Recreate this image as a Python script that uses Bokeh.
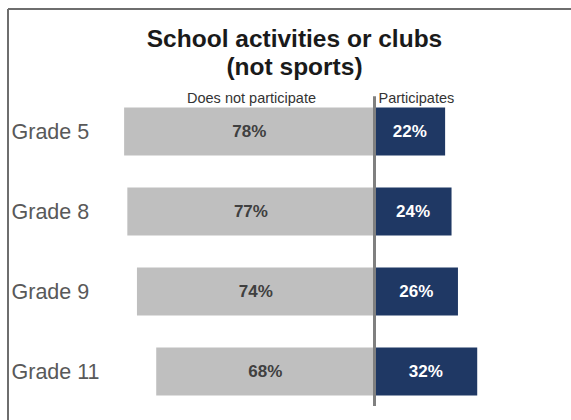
from bokeh.plotting import figure
from bokeh.models import Range1d, Label, ColumnDataSource
from bokeh.core.properties import value
from bokeh.embed import file_html
from bokeh.resources import INLINE

# ---- data ----
grades = ["Grade 5", "Grade 8", "Grade 9", "Grade 11"]
does_not_participate = [78, 77, 74, 68]
participates = [22, 24, 26, 32]
title_lines = ["School activities or clubs", "(not sports)"]
header_left = "Does not participate"
header_right = "Participates"

GRAY = "#bfbfbf"
NAVY = "#1f3864"
FONT = "Liberation Sans"

# layout (pixel scale 3.21 px per %, 80 px per row)
W, H = 571, 420
PX = 3.21
PY = 80.0
X_START = -374 / PX
X_END = X_START + W / PX
Y_START = -0.6125
Y_END = Y_START + H / PY

n = len(grades)
ypos = [n - 1 - i for i in range(n)]  # first grade on top

p = figure(
    width=W, height=H,
    x_range=Range1d(X_START, X_END), y_range=Range1d(Y_START, Y_END),
    x_axis_location=None, y_axis_location=None,
    output_backend="svg", toolbar_location=None,
    min_border=0,
)
p.outline_line_color = None
p.xgrid.visible = False
p.ygrid.visible = False
p.background_fill_color = "white"
p.border_fill_color = "white"

src = ColumnDataSource(dict(
    y=ypos,
    grade=grades,
    neg=[-v for v in does_not_participate],
    pos=participates,
    neg_mid=[-v / 2 for v in does_not_participate],
    pos_mid=[v / 2 for v in participates],
    neg_lbl=[f"{v}%" for v in does_not_participate],
    pos_lbl=[f"{v}%" for v in participates],
    lx=[X_START] * n,
))

# slide frame (left and top border lines)
bx = X_START + 7.5 / PX
by = Y_END - 8.5 / PY
p.segment(x0=[bx, bx], x1=[bx, X_END], y0=[Y_START, by], y1=[by, by],
          line_color="#6e6e6e", line_width=2)

p.hbar(y="y", left="neg", right=0, height=0.6, source=src,
       fill_color=GRAY, line_color=None)
p.hbar(y="y", left=0, right="pos", height=0.6, source=src,
       fill_color=NAVY, line_color=None)

# centre divider
p.segment(x0=[0], x1=[0], y0=[ypos[0] + 0.44], y1=[ypos[-1] - 0.43],
          line_color="#808080", line_width=3)

p.text(x="neg_mid", y="y", text="neg_lbl", source=src,
       text_align="center", text_baseline="middle",
       text_font_size="17px", text_font_style="bold", text_color="#404040",
       text_font=value(FONT))
p.text(x="pos_mid", y="y", text="pos_lbl", source=src,
       text_align="center", text_baseline="middle",
       text_font_size="17px", text_font_style="bold", text_color="white",
       text_font=value(FONT))

# category labels
p.text(x="lx", y="y", text="grade", source=src, x_offset=11,
       text_align="left", text_baseline="middle",
       text_font_size="21.5px", text_color="#595959", text_font=value(FONT))

# titles and headers (screen units, frame == canvas, y measured from bottom)
for txt, yy in zip(title_lines, [H - 37.5, H - 66]):
    p.add_layout(Label(x=294, y=yy, x_units="screen", y_units="screen", text=txt,
                       text_align="center", text_baseline="middle",
                       text_font=FONT, text_font_size="24.5px", text_font_style="bold",
                       text_color="#1a1a1a"))
p.add_layout(Label(x=251, y=H - 97, x_units="screen", y_units="screen", text=header_left,
                   text_align="center", text_baseline="middle",
                   text_font=FONT, text_font_size="14.5px", text_color="#333333"))
p.add_layout(Label(x=378, y=H - 97, x_units="screen", y_units="screen", text=header_right,
                   text_align="left", text_baseline="middle",
                   text_font=FONT, text_font_size="14.5px", text_color="#333333"))

open("out.html", "w").write(file_html(p, INLINE))
